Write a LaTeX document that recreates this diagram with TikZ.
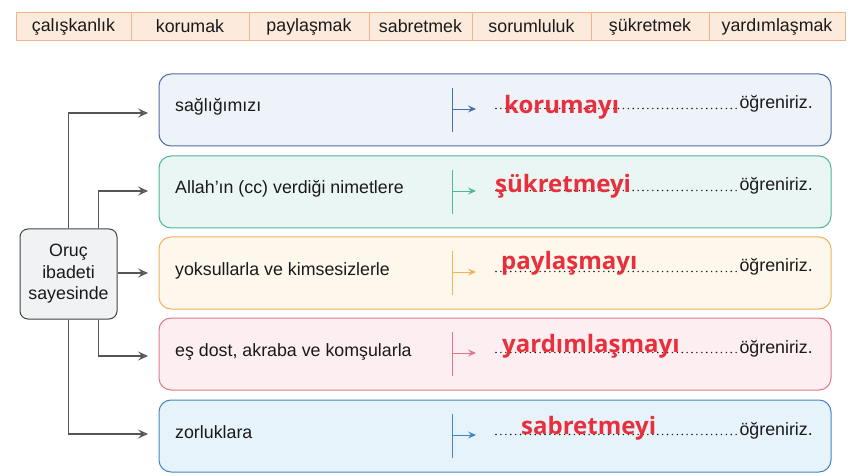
\documentclass[tikz,border=0pt]{standalone}
\usepackage{fontspec}
\setmainfont{Liberation Sans}
\newfontfamily\redfont{Open Sans}
\usetikzlibrary{arrows.meta}
\definecolor{tabfill}{HTML}{FCEADD}
\definecolor{tabdraw}{HTML}{EFB48C}
\definecolor{bAd}{HTML}{4E6DA6}\definecolor{bAf}{HTML}{EEF3FA}
\definecolor{bBd}{HTML}{4FB697}\definecolor{bBf}{HTML}{E9F6F3}
\definecolor{bCd}{HTML}{EFB35A}\definecolor{bCf}{HTML}{FEF7EC}
\definecolor{bDd}{HTML}{E0778A}\definecolor{bDf}{HTML}{FDEEF1}
\definecolor{bEd}{HTML}{3F86C4}\definecolor{bEf}{HTML}{E6F3FB}
\definecolor{orfill}{HTML}{F1F2F4}
\definecolor{ordraw}{HTML}{444444}
\definecolor{conncol}{HTML}{555555}
\definecolor{answer}{HTML}{E8303C}
\definecolor{txt}{HTML}{1A1A1A}
\tikzset{
  cell/.style={draw=tabdraw, fill=tabfill, line width=0.9pt, minimum height=28pt, inner sep=0pt, font=\fontsize{17.8}{20}\selectfont, text=txt},
  rowbox/.style={draw=#1d, fill=#1f, rounded corners=12pt, line width=1pt, minimum width=672pt, minimum height=72pt, inner sep=0pt},
  label/.style={anchor=base west, font=\fontsize{17.8}{20}\selectfont, text=txt, inner sep=0pt},
  ogr/.style={anchor=base east, font=\fontsize{17.8}{20}\selectfont, text=txt, inner sep=0pt},
  ans/.style={anchor=west, font=\redfont\bfseries\fontsize{24}{27}\selectfont, text=answer, inner sep=0pt},
  conn/.style={draw=conncol, line width=1.1pt, -{Stealth[length=10pt, width=9pt, inset=4pt, open, fill=conncol!70]}},
  mark/.style={draw=#1, line width=0.9pt},
  markarrow/.style={draw=#1, line width=0.9pt, -{Stealth[length=8pt, width=7pt, inset=3pt]}},
  dots/.style={draw=txt, line width=1.6pt, line cap=round, dash pattern=on 0pt off 4.9pt},
  oruc/.style={draw=ordraw, fill=orfill, rounded corners=8pt, line width=1pt, minimum width=97pt, minimum height=90pt, align=center, font=\fontsize{17.8}{21.5}\selectfont, text=txt, inner sep=0pt}
}
\begin{document}
\begin{tikzpicture}[x=1pt, y=-1pt]
\useasboundingbox[fill=white] (0,0) rectangle (863,476);
% word table
\foreach \a/\b/\w/\n in {16/131/çalışkanlık/c1, 131/249/korumak/c2, 249/369/paylaşmak/c3, 369/472/sabretmek/c4, 472/591/sorumluluk/c5, 591/709/şükretmek/c6, 709/845/yardımlaşmak/c7}{
  \node[cell, minimum width={(\b-\a)*1pt}] (\n) at ({(\a+\b)/2}, 26.5) {\w};
}
% rows
\node[rowbox=bA] (r1) at (495, 110) {};
\node[rowbox=bB] (r2) at (495, 192) {};
\node[rowbox=bC] (r3) at (495, 273) {};
\node[rowbox=bD] (r4) at (495, 354) {};
\node[rowbox=bE] (r5) at (495, 436) {};
\node[label] (l1) at (175, 112) {sağlığımızı};
\node[label] (l2) at (175, 194) {Allah’ın (cc) verdiği nimetlere};
\node[label] (l3) at (175, 276) {yoksullarla ve kimsesizlerle};
\node[label] (l4) at (175, 356) {eş dost, akraba ve komşularla};
\node[label] (l5) at (175, 438) {zorluklara};
\foreach \i/\c/\y in {1/bAd/110, 2/bBd/192, 3/bCd/273, 4/bDd/354, 5/bEd/436}{
  \coordinate (m\i a) at (452, \y-22);
  \coordinate (m\i b) at (452, \y+22);
  \coordinate (m\i c) at (476, \y-1);
  \coordinate (d\i a) at (496, \y-1.5);
  \coordinate (d\i b) at (738, \y-1.5);
  \draw[mark=\c] (m\i a) -- (m\i b);
  \draw[markarrow=\c] (m\i a |- m\i c) -- (m\i c);
  \draw[dots] (d\i a) -- (d\i b);
  \node[ogr] (o\i) at (813, \y-1) {öğreniriz.};
}
\node[ans] (a1) at (504, 107) {korumayı};
\node[ans] (a2) at (495, 186) {şükretmeyi};
\node[ans] (a3) at (501, 263) {paylaşmayı};
\node[ans] (a4) at (502, 346) {yardımlaşmayı};
\node[ans] (a5) at (521, 428) {sabretmeyi};
% central node
\node[oruc] (or) at (68.5, 274) {Oruç\\ibadeti\\sayesinde};
\coordinate (t1) at (148, 113);
\coordinate (t2) at (148, 191);
\coordinate (t3) at (148, 273);
\coordinate (t4) at (148, 356);
\coordinate (t5) at (148, 434);
\draw[conn] (or.north) |- (t1);
\draw[conn] ([xshift=30pt]or.north) |- (t2);
\draw[conn] (or.east |- t3) -- (t3);
\draw[conn] ([xshift=30pt]or.south) |- (t4);
\draw[conn] (or.south) |- (t5);
\end{tikzpicture}
\end{document}
